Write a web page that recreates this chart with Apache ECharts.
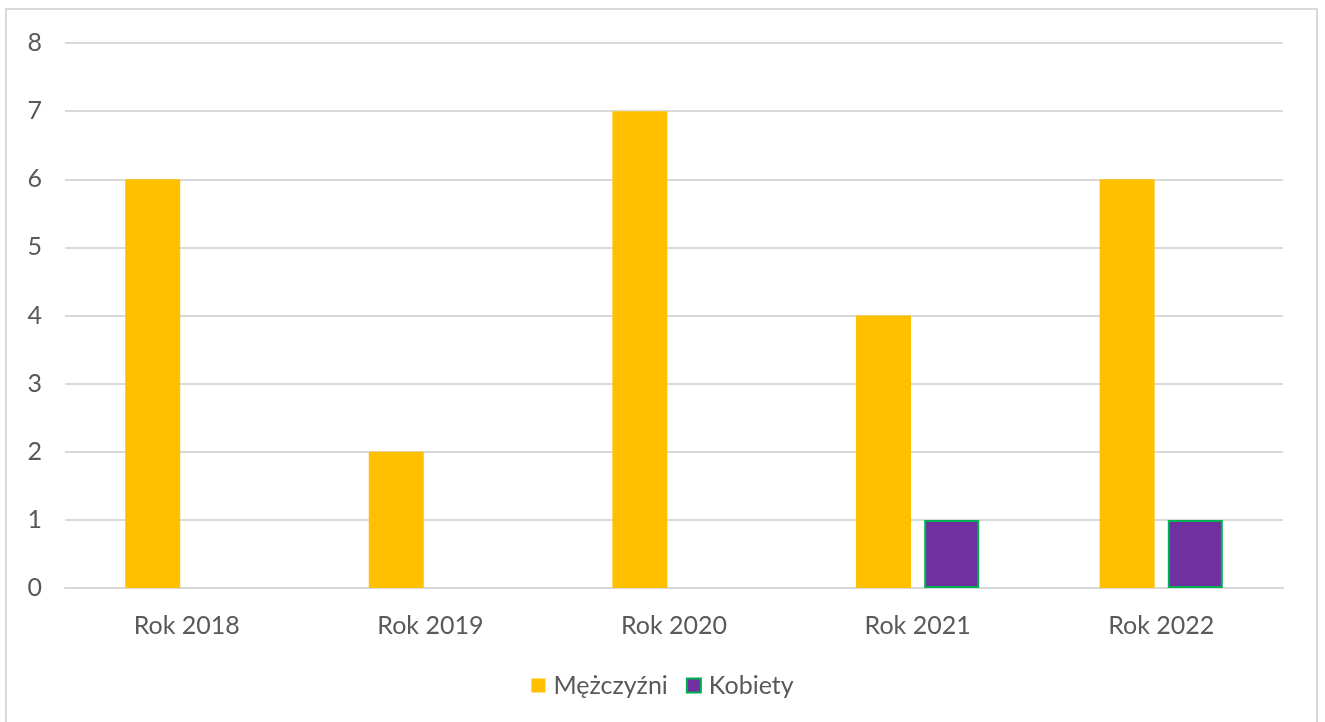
<!DOCTYPE html>
<html>
<head>
<meta charset="utf-8">
<script src="https://cdn.jsdelivr.net/npm/echarts@6/dist/echarts.min.js"></script>
<style>
html,body{margin:0;padding:0;background:#fff;}
#chart{width:1325px;height:722px;}
</style>
</head>
<body>
<div id="chart"></div>
<script>
const categories = ['Rok 2018', 'Rok 2019', 'Rok 2020', 'Rok 2021', 'Rok 2022'];
const seriesNames = ['Mężczyźni', 'Kobiety'];
const menValues = [6, 2, 7, 4, 6];
const womenValues = [0, 0, 0, 1, 1];

const chart = echarts.init(document.getElementById('chart'));
const font = 'Lato, "Open Sans", "DejaVu Sans", sans-serif';
const textColor = '#595959';

chart.setOption({
  animation: false,
  backgroundColor: '#fff',
  graphic: [{
    type: 'rect',
    shape: { x: 6, y: 9, width: 1311, height: 730 },
    style: { fill: 'none', stroke: '#d9d9d9', lineWidth: 2 },
    silent: true
  }],
  grid: { left: 65, right: 42, top: 43, bottom: 134, containLabel: false },
  legend: {
    data: seriesNames,
    top: 668,
    left: 'center',
    itemWidth: 14,
    itemHeight: 14,
    itemGap: 18,
    icon: 'rect',
    textStyle: { fontFamily: font, fontSize: 25, color: textColor, padding: [0, 0, 0, 3] }
  },
  xAxis: {
    type: 'category',
    data: categories,
    axisTick: { show: false },
    axisLine: { lineStyle: { color: '#d9d9d9', width: 2 } },
    axisLabel: { fontFamily: font, fontSize: 25, color: textColor, margin: 25 }
  },
  yAxis: {
    type: 'value',
    min: 0,
    max: 8,
    interval: 1,
    axisLine: { show: false },
    axisTick: { show: false },
    splitLine: { lineStyle: { color: '#d9d9d9', width: 2 } },
    axisLabel: { fontFamily: font, fontSize: 25, color: textColor, margin: 23 }
  },
  series: [
    {
      name: seriesNames[0],
      type: 'bar',
      data: menValues,
      barWidth: 55,
      barGap: '24%',
      itemStyle: { color: '#FFC000' }
    },
    {
      name: seriesNames[1],
      type: 'bar',
      data: womenValues.map(v => v === 0 ? { value: v, itemStyle: { borderWidth: 0, opacity: 0 } } : v),
      barWidth: 55,
      barGap: '24%',
      itemStyle: { color: '#7030A0', borderColor: '#00B050', borderWidth: 2 }
    }
  ]
});
</script>
</body>
</html>
